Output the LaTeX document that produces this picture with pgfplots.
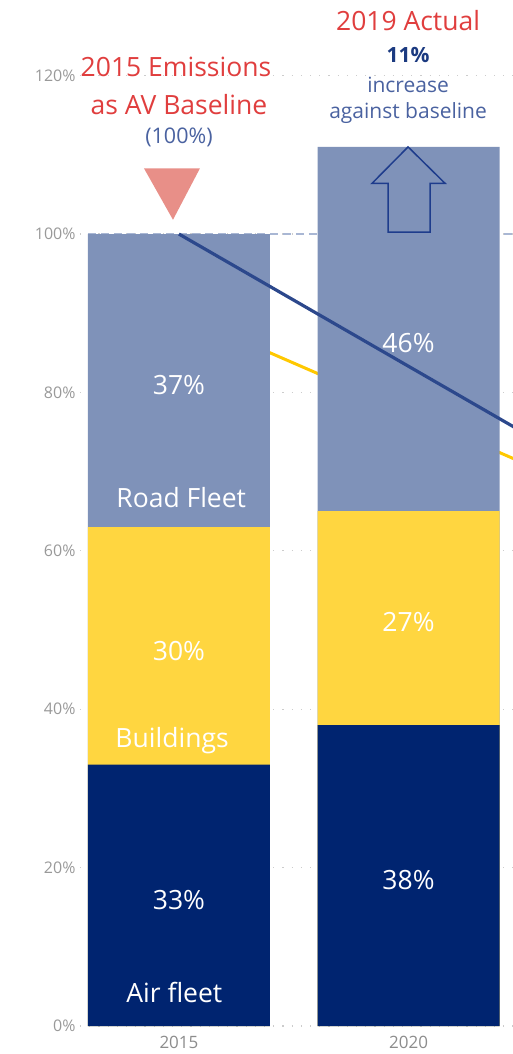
\documentclass[border=0pt]{standalone}
\usepackage{pgfplots}
\pgfplotsset{compat=1.18}
\usepackage{fontspec}
\setmainfont{Open Sans}
\definecolor{road}{RGB}{127,146,185}
\definecolor{bld}{RGB}{255,214,64}
\definecolor{air}{RGB}{0,36,112}
\definecolor{bline}{RGB}{44,72,140}
\definecolor{yline}{RGB}{255,200,0}
\definecolor{redt}{RGB}{224,62,62}
\definecolor{bluet}{RGB}{74,98,160}
\definecolor{navyt}{RGB}{27,58,128}
\definecolor{tri}{RGB}{232,143,136}
\definecolor{arr}{RGB}{30,60,140}
\definecolor{dashc}{RGB}{169,183,212}
\begin{document}
\begin{tikzpicture}
\begin{axis}[
  at={(0,0)}, anchor=south west, scale only axis,
  width=433pt, height=1026pt,
  xmin=-0.431, xmax=1.455, ymin=0, ymax=129.55,
  axis line style={draw=none}, major tick length=0pt,
  xtick={0,1}, xticklabels={2015,2020},
  ytick={0,20,...,120},
  yticklabel={\pgfmathprintnumber{\tick}\%},
  /pgf/number format/assume math mode=true,
  ymajorgrids,
  grid style={draw=gray!40, line width=1.1pt, dash pattern=on 1.2pt off 8pt},
  yticklabel style={font=\fontsize{16}{18}\selectfont, text=gray!80, xshift=-1pt},
  xticklabel style={font=\fontsize{17}{20}\selectfont, text=gray!90, yshift=-7pt},
  clip mode=individual,
]
% yellow trajectory (behind bars)
\addplot[yline, line width=3pt] coordinates {(0,90) (1,77.4) (2,64.8)};
% baseline dashed
\addplot[dashc, line width=2.5pt, dash pattern=on 8pt off 5pt] coordinates {(-0.397,100) (1.455,100)};
% bars (cumulative, overlaid)
\addplot[ybar, bar width=182pt, bar shift=0pt, fill=road, draw=none] coordinates {(0,100) (1,111)};
\addplot[ybar, bar width=182pt, bar shift=0pt, fill=bld, draw=none] coordinates {(0,63) (1,65)};
\addplot[ybar, bar width=182pt, bar shift=0pt, fill=air, draw=none] coordinates {(0,33) (1,38)};
% blue trajectory
\addplot[bline, line width=3.2pt] coordinates {(0,100) (1,83.3) (2,66.6)};
% bar labels
\begin{scope}[every node/.style={text=white, font=\fontsize{26.5}{30}\selectfont}]
\node at (axis cs:0,15.9) {33\%};
\node at (axis cs:-0.02,4.2) {Air fleet};
\node at (axis cs:0,47.3) {30\%};
\node at (axis cs:-0.03,36.0) {Buildings};
\node at (axis cs:0,80.9) {37\%};
\node at (axis cs:0.01,66.7) {Road Fleet};
\node at (axis cs:1,18.4) {38\%};
\node at (axis cs:1,51.0) {27\%};
\node at (axis cs:1,86.2) {46\%};
\end{scope}
% annotations
\node[text=redt, font=\fontsize{26.5}{30}\selectfont] at (axis cs:-0.013,121.1) {2015 Emissions};
\node[text=redt, font=\fontsize{26.5}{30}\selectfont] at (axis cs:0,116.3) {as AV Baseline};
\node[text=bluet, font=\fontsize{21.5}{24}\selectfont] at (axis cs:0,112.25) {(100\%)};
\fill[tri] (axis cs:-0.1525,108.3) -- (axis cs:0.0915,108.3) -- (axis cs:-0.026,101.8) -- cycle;
\node[text=redt, font=\fontsize{26.5}{30}\selectfont] at (axis cs:0.998,127.0) {2019 Actual};
\node[text=navyt, font=\fontsize{21}{24}\selectfont\bfseries] at (axis cs:0.998,122.6) {11\%};
\node[text=bluet, font=\fontsize{21}{24}\selectfont] at (axis cs:0.998,118.8) {increase};
\node[text=bluet, font=\fontsize{21}{24}\selectfont] at (axis cs:0.998,115.3) {against baseline};
\draw[arr, line width=1.5pt, line join=miter]
  (axis cs:0.998,111.0) -- (axis cs:1.159,106.4) -- (axis cs:1.094,106.4)
  -- (axis cs:1.094,100.25) -- (axis cs:0.911,100.25) -- (axis cs:0.911,106.4)
  -- (axis cs:0.841,106.4) -- cycle;
\end{axis}
\pgfresetboundingbox
\path[use as bounding box] (-80pt,-28pt) rectangle (433pt,1026pt);
\end{tikzpicture}
\end{document}
